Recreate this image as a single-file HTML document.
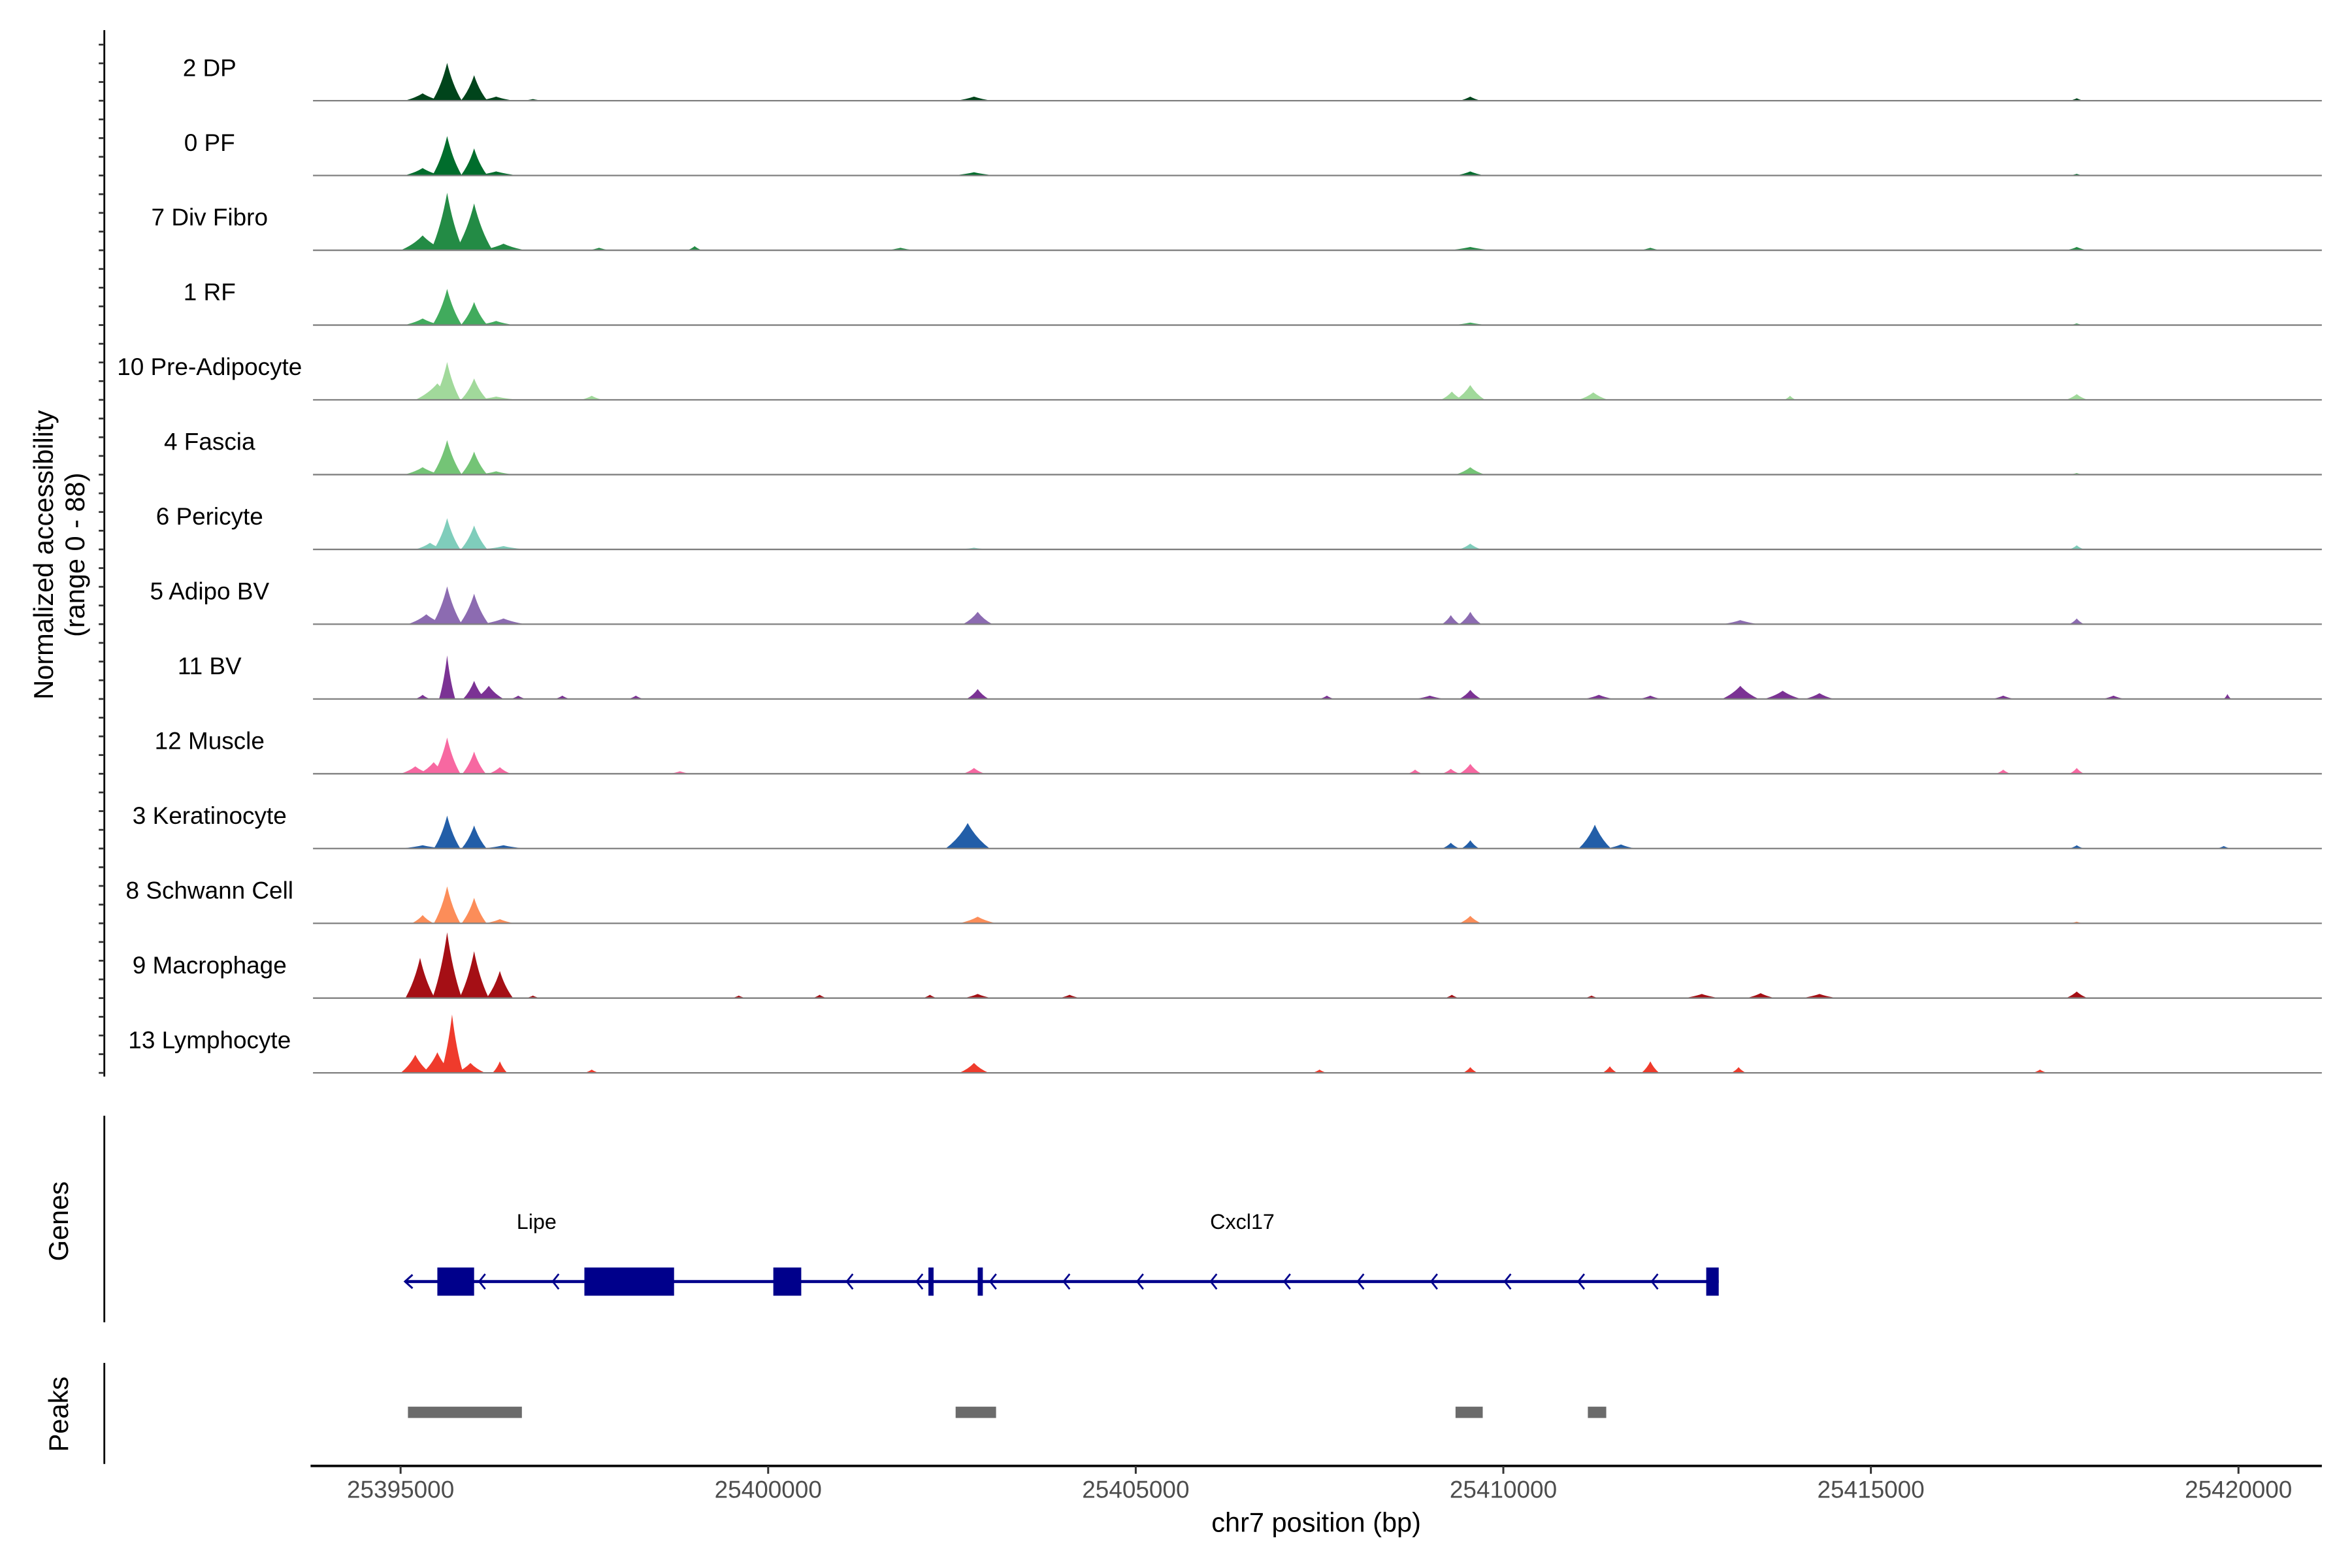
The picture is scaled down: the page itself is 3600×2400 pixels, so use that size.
<!DOCTYPE html>
<html><head><meta charset="utf-8"><style>
html,body{margin:0;padding:0;background:#fff}
svg{display:block}
text{font-family:"Liberation Sans",Arial,sans-serif}
</style></head><body>
<svg id="chart" xmlns="http://www.w3.org/2000/svg" width="3600" height="2400" viewBox="0 0 1560 1040">
<g id="tracks"></g>
<g id="yaxis">
  <line x1="69.2" y1="20" x2="69.2" y2="714" stroke="#000" stroke-width="1.2"/>
</g>
<text transform="translate(35,368) rotate(-90)" text-anchor="middle" font-size="18">Normalized accessibility</text>
<text transform="translate(56,368) rotate(-90)" text-anchor="middle" font-size="18">(range 0 - 88)</text>
<g id="genes">
  <line x1="69.2" y1="740" x2="69.2" y2="877" stroke="#000" stroke-width="1.2"/>
  <text transform="translate(45,810) rotate(-90)" text-anchor="middle" font-size="18">Genes</text>
</g>
<g id="peaks">
  <line x1="69.2" y1="904" x2="69.2" y2="971" stroke="#000" stroke-width="1.2"/>
  <text transform="translate(45,938) rotate(-90)" text-anchor="middle" font-size="18">Peaks</text>
</g>
<g id="xaxis">
  <line x1="206" y1="972.3" x2="1540" y2="972.3" stroke="#000" stroke-width="1.6"/>
  <text x="873" y="1016" text-anchor="middle" font-size="18">chr7 position (bp)</text>
</g>
</svg>
<script>
const NS="http://www.w3.org/2000/svg";
const trackNames=["2 DP","0 PF","7 Div Fibro","1 RF","10 Pre-Adipocyte","4 Fascia","6 Pericyte","5 Adipo BV","11 BV","12 Muscle","3 Keratinocyte","8 Schwann Cell","9 Macrophage","13 Lymphocyte"];
const trackColors=["#00441b","#006d2c","#238b45","#41ab5d","#a1d99b","#74c476","#7fcdbb","#8c6bb1","#7b3294","#f768a1","#225ea8","#fc8d59","#a50f15","#ef3b2c"];
// peaks: [center bp, value (0-88), half-width bp]
const peaks0=[[25395300,9,250],[25395633,46,200],[25396000,31,180],[25396300,5,250],[25396800,2,150],[25402800,5,250],[25409550,5,150],[25417800,3,100]];
const peaks1=[[25395300,9,250],[25395633,48,200],[25396000,33,180],[25396300,5,300],[25402800,4,300],[25409550,5,200],[25417800,2,100]];
const peaks2=[[25395300,18,300],[25395633,70,220],[25396000,57,250],[25396400,8,300],[25397700,3,150],[25399000,5,100],[25401800,3,200],[25409550,4,300],[25412000,3,150],[25417800,4,150]];
const peaks3=[[25395300,8,250],[25395633,44,200],[25396000,28,180],[25396300,5,250],[25409550,3,250],[25417800,2,100]];
const peaks4=[[25395500,20,300],[25395633,46,180],[25396000,26,180],[25396300,4,300],[25397600,5,150],[25409300,10,150],[25409550,18,200],[25411224,9,200],[25413900,5,80],[25417800,7,150]];
const peaks5=[[25395300,9,250],[25395633,42,200],[25396000,28,180],[25396300,4,250],[25409550,9,200],[25417800,2,100]];
const peaks6=[[25395400,8,200],[25395633,38,180],[25396000,29,180],[25396400,4,300],[25402800,2,200],[25409550,7,150],[25417800,5,100]];
const peaks7=[[25395350,12,250],[25395633,46,200],[25396000,37,200],[25396400,7,300],[25402850,15,200],[25409286,11,120],[25409551,15,150],[25413224,5,250],[25417800,7,100]];
const peaks8=[[25395300,5,100],[25395633,53,110],[25396000,22,150],[25396200,16,200],[25396600,4,100],[25397200,4,100],[25398200,4,100],[25402850,12,150],[25407600,4,100],[25409000,4,200],[25409551,11,150],[25411300,5,200],[25412000,4,150],[25413224,16,250],[25413800,10,250],[25414300,7,200],[25416800,4,150],[25418300,4,150],[25419850,6,50]];
const peaks9=[[25395200,9,200],[25395450,14,200],[25395633,44,180],[25396000,27,160],[25396350,8,150],[25398800,3,150],[25402800,7,150],[25408800,5,100],[25409286,6,120],[25409551,12,150],[25416800,5,100],[25417800,7,100]];
const peaks10=[[25395300,4,300],[25395633,40,180],[25396000,28,170],[25396400,4,300],[25402714,31,300],[25409286,7,120],[25409551,10,120],[25411245,29,220],[25411600,5,200],[25417800,4,100],[25419800,3,100]];
const peaks11=[[25395300,10,150],[25395633,45,180],[25396000,31,170],[25396350,5,200],[25402850,8,250],[25409551,9,150],[25417800,2,100]];
const peaks12=[[25395265,49,200],[25395633,80,200],[25396000,57,200],[25396350,33,180],[25396800,3,100],[25399600,3,100],[25400700,4,100],[25402200,4,100],[25402850,5,200],[25404100,4,150],[25409300,4,100],[25411200,3,100],[25412700,5,250],[25413500,6,200],[25414300,5,250],[25417800,8,150]];
const peaks13=[[25395200,22,200],[25395500,25,200],[25395700,71,150],[25395950,12,200],[25396350,14,100],[25397600,4,100],[25402800,12,200],[25407500,4,100],[25409551,7,100],[25411449,8,100],[25412000,14,120],[25413200,7,100],[25417300,4,100]];
const allPeaks=[peaks0,peaks1,peaks2,peaks3,peaks4,peaks5,peaks6,peaks7,peaks8,peaks9,peaks10,peaks11,peaks12,peaks13];
const xTicks=[25395000,25400000,25405000,25410000,25415000,25420000];
const geneStart=25395060, geneEnd=25412930;
const geneExons=[[25395500,25396000],[25397500,25398720],[25400070,25400450],[25402180,25402250],[25402850,25402920],[25412760,25412930]];
const geneChevrons=[25396100,25397100,25401100,25402050,25403050,25404050,25405050,25406050,25407050,25408050,25409050,25410050,25411050,25412050];
const geneNames=["Lipe","Cxcl17"];
const geneLabelPos=[25396850,25406450];
const peakRegions=[[25395100,25396650],[25402550,25403100],[25409350,25409720],[25411150,25411400]];

const X=bp=>265.7+(bp-25395000)*0.04876;
const YMAX=88, TRACK_H=49.6, PX_H=48, BASE0=66.8;
const Y=(i,v)=>BASE0+i*TRACK_H-v/YMAX*PX_H;

const tg=document.getElementById('tracks');
trackNames.forEach((name,i)=>{
  const base=Y(i,0);
  const g=document.createElementNS(NS,'g');
  
  
  allPeaks[i].forEach(p=>{
    const [c,v,w]=p;
    const path=document.createElementNS(NS,'path');
    const x0=X(c-w),x1=X(c+w),xc=X(c),yt=Y(i,v);
    path.setAttribute('d',`M${x0},${base} Q${(x0+xc)/2+(xc-x0)*0.12},${(base+yt)/2+(base-yt)*0.1} ${xc},${yt} Q${(xc+x1)/2-(x1-xc)*0.12},${(base+yt)/2+(base-yt)*0.1} ${x1},${base} Z`);
    path.setAttribute('fill',trackColors[i]);
    
    
    g.appendChild(path);
  });
  const ln=document.createElementNS(NS,'line');
  ln.setAttribute('x1',207.6);ln.setAttribute('x2',1540);ln.setAttribute('y1',base);ln.setAttribute('y2',base);
  ln.setAttribute('stroke','#808080');ln.setAttribute('stroke-width','1');
  
  
  g.appendChild(ln);
  const t=document.createElementNS(NS,'text');
  t.setAttribute('x',139);t.setAttribute('y',base-16.4);t.setAttribute('text-anchor','middle');t.setAttribute('font-size','16');
  t.textContent=name;
  
  
  g.appendChild(t);
  tg.appendChild(g);
});
const ya=document.getElementById('yaxis');
for(let k=-4;k<=56;k++){
  const y=BASE0+k*TRACK_H/4;
  if(y<21||y>713)continue;
  const l=document.createElementNS(NS,'line');
  l.setAttribute('x1',65.5);l.setAttribute('x2',69.2);l.setAttribute('y1',y);l.setAttribute('y2',y);
  l.setAttribute('stroke','#333');l.setAttribute('stroke-width','1.2');
  
  
  ya.appendChild(l);
}
const gg=document.getElementById('genes');
const GY=850;
function add(parent,tag,attrs,name){const e=document.createElementNS(NS,tag);for(const k in attrs)e.setAttribute(k,attrs[k]);parent.appendChild(e);return e;}
add(gg,'line',{x1:X(geneStart),x2:X(geneEnd),y1:GY,y2:GY,stroke:'#00008b','stroke-width':2},'gene-body');
add(gg,'path',{d:`M${X(geneStart)+5},${GY-4.5} L${X(geneStart)},${GY} L${X(geneStart)+5},${GY+4.5}`,stroke:'#00008b',fill:'none','stroke-width':1.3},'gene-start-arrow');
geneExons.forEach(e=>{add(gg,'rect',{x:X(e[0]),y:GY-9.3,width:Math.max(3,X(e[1])-X(e[0])),height:18.7,fill:'#00008b'},'exon');});
geneChevrons.forEach(c=>{const x=X(c);add(gg,'path',{d:`M${x+2.5},${GY-5} L${x-1.5},${GY} L${x+2.5},${GY+5}`,stroke:'#00008b',fill:'none','stroke-width':1.2},'strand-chevron');});
geneNames.forEach((n,i)=>{const t=add(gg,'text',{x:X(geneLabelPos[i]),y:815,'text-anchor':'middle','font-size':'14'},'gene-label');t.textContent=n;});
const pg=document.getElementById('peaks');
peakRegions.forEach(r=>{add(pg,'rect',{x:X(r[0]),y:933,width:X(r[1])-X(r[0]),height:7.5,fill:'#6b6b6b'},'peak-region');});
const xa=document.getElementById('xaxis');
xTicks.forEach(v=>{
  add(xa,'line',{x1:X(v),x2:X(v),y1:972.3,y2:977.5,stroke:'#333','stroke-width':1.3},'x-tick');
  const t=add(xa,'text',{x:X(v),y:993.5,'text-anchor':'middle','font-size':'16',fill:'#4d4d4d'},'x-tick-label');t.textContent=v;
});
</script>
</body></html>
